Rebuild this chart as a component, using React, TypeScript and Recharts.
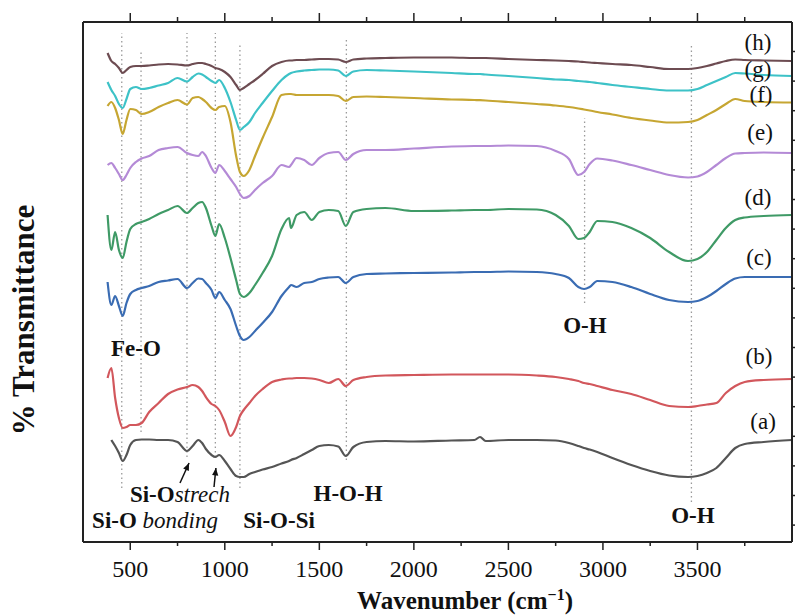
import { LineChart, Line, XAxis, YAxis, ReferenceLine, ReferenceDot } from 'recharts';

// wavenumber grid (cm-1) shared by all spectra
const wavenumbers = [
  380, 400, 420, 440, 460, 480, 500, 530, 560, 600, 650, 700, 750, 800, 830, 860, 880, 900, 930, 950,
  970, 1000, 1030, 1060, 1080, 1100, 1130, 1160, 1200, 1250, 1300, 1340, 1350, 1380, 1420, 1460, 1500, 1550, 1600, 1640,
  1680, 1750, 1850, 2000, 2200, 2320, 2350, 2380, 2500, 2650, 2750, 2820, 2870, 2900, 2930, 2970, 3050, 3150, 3250, 3350,
  3450, 3500, 3550, 3600, 3650, 3700, 3750, 3850, 4000,
];

// % transmittance, stacked with offsets (a.u.)
const specA = [
  null, 102, 96, 89, 81, 87, 97, 102, 102.5, 102.5, 102, 102, 100, 91, 96, 102, 99, 93, 87, 85,
  87, 81, 73, 66, 65, 65, 68, 70, 72.5, 75, 78.5, 81, 82, 84, 88, 92, 96, 97, 95.5, 86,
  95, 100, 101, 100.5, 101.5, 102, 105, 101, 102, 102, 101.5, 99, 96, 94, 92.5, 90, 84, 77, 71, 66.5,
  65, 66, 69, 74, 84, 94, 98, 100, 102,
];
const specB = [
  164, 174, 144, 124, 114, 115, 117, 117, 119, 130, 139, 148, 152.5, 155, 157, 155, 151, 145, 138, 136,
  132, 120, 106, 115, 126, 132, 139, 146, 153, 160, 162.5, 163.5, 163.5, 164, 164, 163.5, 162, 159, 163, 156,
  162, 165, 166.5, 167, 167.5, 167.5, 167.5, 167.5, 167.5, 166.5, 165, 163, 161, 159, 158, 156, 152, 148, 142, 136,
  135, 136, 137.5, 139, 149, 156, 160, 162, 163,
];
const specC = [
  260, 237, 246, 236, 226, 239, 248, 252, 254, 256, 260, 261.5, 263, 254, 259, 263.5, 263, 259, 252, 244,
  250, 242, 233, 216, 206, 202, 205, 211, 219, 230, 246, 255, 257, 255, 259, 260, 263, 264.5, 265, 259,
  265, 268, 268.5, 269, 269.5, 270, 270, 270, 270.5, 270, 268, 264, 255, 253, 255, 261, 260, 255, 248, 242,
  240, 241, 245, 251, 258, 263.5, 265, 265, 265,
];
const specD = [
  327, 292, 310, 292, 284, 300, 313, 318, 320, 323, 328, 332, 336, 329, 334, 339, 340, 334, 316, 306,
  318, 304, 284, 262, 248, 245, 249, 257, 269, 286, 313, 324, 314, 327, 330, 322, 330, 332, 331, 316,
  330, 333, 334, 331, 331.5, 332, 332, 332, 333, 332.5, 327, 316, 303, 304, 310, 321, 320, 314, 304, 290,
  281, 283, 290, 302, 314, 322, 324.5, 326, 327,
];
const specE = [
  377, 379, 374, 368, 362, 367, 374, 380, 383.5, 386, 392, 394, 395, 389, 387, 386, 390, 386, 374, 369,
  377, 371, 363, 355, 348, 344, 346, 352, 359, 366, 377, 375, 377, 384, 382, 377, 384, 389, 390, 382,
  388, 392, 392, 393.5, 395.5, 396, 396, 396, 396.5, 396, 391, 383, 367, 370, 378, 383.5, 381.5, 377, 372, 367,
  364.5, 365.5, 370, 377, 384, 388.5, 389, 389.5, 389,
];
const specF = [
  436, 440, 434, 422, 408, 422, 433, 432, 428, 430, 435, 439, 442, 437.5, 444, 445, 443, 440, 434, 432,
  435, 436, 420, 386, 370, 366, 372, 386, 404, 425, 447, 448, 448, 447, 447, 447, 447, 447, 446, 441,
  445, 445.5, 445, 444, 442.5, 442, 441.8, 441.5, 440, 438, 436.5, 435, 433.5, 432.5, 431.5, 430, 427.5, 424, 421.5, 419.5,
  420, 422, 427, 432, 438, 443, 441, 440, 439.5,
];
const specG = [
  460, 452, 446, 438, 434, 443, 453, 455, 453, 454, 456.5, 459, 464, 460.5, 465, 468.5, 467.5, 465, 461, 459,
  462, 454, 440, 422, 412, 415, 420, 429, 439, 451, 462, 468, 469, 470.5, 471.5, 472, 472.5, 472.5, 471.5, 466,
  470.5, 472, 471.5, 470.5, 469, 468, 468, 467.5, 466, 464, 462.5, 462, 461, 460.5, 460, 459, 457, 455, 453, 451.5,
  451.5, 453, 457, 461, 465, 469, 468.5, 467, 466,
];
const specH = [
  489, 481, 478, 474, 469, 472, 475, 476, 476, 476.5, 477.5, 478, 477.5, 476.5, 478, 479, 479, 478, 476, 474,
  473, 470, 465, 457, 452, 454, 458, 462, 468, 476, 480, 481.5, 481.5, 482, 482, 482.5, 483, 483, 482.5, 480,
  482.5, 483.5, 484, 484.5, 484.5, 484, 484, 484, 483, 482, 481.5, 481, 480.5, 480, 479.5, 479, 478, 477, 475, 473,
  473, 474, 476, 478.5, 481, 482.5, 482, 481.5, 481,
];

const majorTicks = [500, 1000, 1500, 2000, 2500, 3000, 3500];
const minorTicks = [750, 1250, 1750, 2250, 2750, 3250, 3750];
const rightTicks = [
  16.9, 46.5, 76.1, 105.7, 135.3, 164.9, 194.5, 224.1, 253.7, 283.3, 312.9, 342.5, 372.1, 401.7, 431.3, 460.9, 490.5,
];

// dotted guide lines: wavenumber, lower and upper end
const bandLines = [
  { w: 455, from: 54, to: 509 },
  { w: 557, from: 110, to: 492 },
  { w: 800, from: 85, to: 509 },
  { w: 950, from: 85, to: 509 },
  { w: 1080, from: 54, to: 499 },
  { w: 1643, from: 82, to: 505 },
  { w: 2903, from: 239, to: 424 },
  { w: 3468, from: 40, to: 499 },
];

const curveNames = [
  { text: '(h)', w: 3820, v: 500 },
  { text: '(g)', w: 3820, v: 473 },
  { text: '(f)', w: 3836, v: 448 },
  { text: '(e)', w: 3831, v: 410 },
  { text: '(d)', w: 3820, v: 345 },
  { text: '(c)', w: 3825, v: 285 },
  { text: '(b)', w: 3825, v: 186 },
  { text: '(a)', w: 3847, v: 121 },
];

const bandNames = [
  { bold: 'Fe-O', italic: '', w: 530, v: 194 },
  { bold: 'O-H', italic: '', w: 2905, v: 217 },
  { bold: 'O-H', italic: '', w: 3476, v: 27 },
  { bold: 'H-O-H', italic: '', w: 1652, v: 49 },
  { bold: 'Si-O-Si', italic: '', w: 1287, v: 22 },
  { bold: 'Si-O ', italic: 'bonding', w: 631, v: 22 },
  { bold: 'Si-O', italic: 'strech', w: 763, v: 48 },
];

const arrows = [
  { from: { x: 763, y: 59 }, to: { x: 811, y: 79 } },
  { from: { x: 943, y: 55 }, to: { x: 953, y: 74 } },
];

const rows = wavenumbers.map((w, i) => ({
  w,
  a: specA[i],
  b: specB[i],
  c: specC[i],
  d: specD[i],
  e: specE[i],
  f: specF[i],
  g: specG[i],
  h: specH[i],
}));

const series = [
  { key: 'a', color: '#555555' },
  { key: 'b', color: '#d2575c' },
  { key: 'c', color: '#3a6cb3' },
  { key: 'd', color: '#3f9a66' },
  { key: 'e', color: '#b48ad6' },
  { key: 'f', color: '#c6a632' },
  { key: 'g', color: '#3dc2c7' },
  { key: 'h', color: '#6d4c52' },
];

const FONT = "'Liberation Serif', 'Times New Roman', serif";
const INK = '#222';

const BottomTick = (props: any) => {
  const { x, y, payload } = props;
  const major = majorTicks.includes(payload.value);
  return (
    <g>
      <line x1={x} x2={x} y1={y} y2={y + (major ? 8 : 4)} stroke={INK} strokeWidth={1.5} />
      {major && (
        <text x={x} y={y + 35} textAnchor="middle" fontFamily={FONT} fontSize={24} fill="#111">
          {payload.value}
        </text>
      )}
    </g>
  );
};

const TopTick = (props: any) => {
  const { x, y, payload } = props;
  const major = majorTicks.includes(payload.value);
  return <line x1={x} x2={x} y1={y} y2={y - (major ? 9 : 5)} stroke={INK} strokeWidth={1.5} />;
};

const RightTick = (props: any) => {
  const { x, y } = props;
  return <line x1={x} x2={x + 3} y1={y} y2={y} stroke={INK} strokeWidth={1.5} />;
};

const XTitle = (props: any) => {
  const vb = props.viewBox || { x: 83, y: 542, width: 709 };
  return (
    <text x={vb.x + 382} y={vb.y + 67} textAnchor="middle" fontFamily={FONT} fontSize={25} fontWeight="bold" fill="#111">
      Wavenumber (cm
      <tspan dy={-9} fontSize={16}>−1</tspan>
      <tspan dy={9}>)</tspan>
    </text>
  );
};

const YTitle = (props: any) => {
  const vb = props.viewBox || { x: 0, y: 22, height: 520 };
  const cx = 23;
  const cy = vb.y + 298;
  return (
    <text x={cx} y={cy} transform={`rotate(-90 ${cx} ${cy})`} textAnchor="middle" dy="0.35em" fontFamily={FONT} fontSize={31} fontWeight="bold" fill="#111">
      % Transmittance
    </text>
  );
};

const ArrowShape = (props: any) => {
  const { x1, y1, x2, y2 } = props;
  if ([x1, y1, x2, y2].some((n) => typeof n !== 'number')) return null;
  const ang = Math.atan2(y2 - y1, x2 - x1);
  const len = 8;
  const spread = 0.4;
  const p1 = `${x2},${y2}`;
  const p2 = `${x2 - len * Math.cos(ang - spread)},${y2 - len * Math.sin(ang - spread)}`;
  const p3 = `${x2 - len * Math.cos(ang + spread)},${y2 - len * Math.sin(ang + spread)}`;
  return (
    <g>
      <line x1={x1} y1={y1} x2={x2} y2={y2} stroke="#111" strokeWidth={1.5} />
      <polygon points={`${p1} ${p2} ${p3}`} fill="#111" />
    </g>
  );
};

export default function App() {
  return (
    <div style={{ position: 'fixed', left: 0, top: 0, background: '#fff' }}>
      <LineChart width={795} height={615} data={rows} margin={{ top: 12, right: 0, bottom: 0, left: 0 }}>
        <XAxis
          xAxisId="bottom"
          dataKey="w"
          type="number"
          domain={[250, 4000]}
          allowDataOverflow
          ticks={[...majorTicks, ...minorTicks].sort((p, q) => p - q)}
          interval={0}
          tickSize={0}
          tickMargin={0}
          tickLine={false}
          tick={(p: any) => <BottomTick {...p} />}
          height={73}
          axisLine={{ stroke: INK, strokeWidth: 2 }}
          label={<XTitle />}
        />
        <XAxis
          xAxisId="top"
          orientation="top"
          dataKey="w"
          type="number"
          domain={[250, 4000]}
          allowDataOverflow
          ticks={[...majorTicks, ...minorTicks].sort((p, q) => p - q)}
          interval={0}
          tickSize={0}
          tickMargin={0}
          tickLine={false}
          tick={(p: any) => <TopTick {...p} />}
          height={10}
          axisLine={{ stroke: INK, strokeWidth: 2 }}
        />
        <YAxis
          yAxisId="left"
          type="number"
          domain={[0, 520]}
          allowDataOverflow
          width={83}
          tick={false}
          tickLine={false}
          axisLine={{ stroke: INK, strokeWidth: 2 }}
          label={<YTitle />}
        />
        <YAxis
          yAxisId="right"
          orientation="right"
          type="number"
          domain={[0, 520]}
          allowDataOverflow
          width={3}
          ticks={rightTicks}
          interval={0}
          tickSize={0}
          tickMargin={0}
          tickLine={false}
          tick={(p: any) => <RightTick {...p} />}
          axisLine={{ stroke: INK, strokeWidth: 2 }}
        />

        {bandLines.map((b) => (
          <ReferenceLine
            key={`band-${b.w}`}
            xAxisId="bottom"
            yAxisId="left"
            segment={[
              { x: b.w, y: b.from },
              { x: b.w, y: b.to },
            ]}
            stroke="#9a9a9a"
            strokeWidth={1.3}
            strokeDasharray="1.5 3"
          />
        ))}

        {series.map((s) => (
          <Line
            key={s.key}
            xAxisId="bottom"
            yAxisId="left"
            type="monotone"
            dataKey={s.key}
            stroke={s.color}
            strokeWidth={2.2}
            dot={false}
            isAnimationActive={false}
          />
        ))}

        {arrows.map((a, i) => (
          <ReferenceLine
            key={`arrow-${i}`}
            xAxisId="bottom"
            yAxisId="left"
            segment={[a.from, a.to]}
            shape={(p: any) => <ArrowShape {...p} />}
          />
        ))}

        {curveNames.map((c) => (
          <ReferenceDot
            key={c.text}
            xAxisId="bottom"
            yAxisId="left"
            x={c.w}
            y={c.v}
            r={0}
            shape={(p: any) => (
              <text x={p.cx} y={p.cy} dy="0.35em" textAnchor="middle" fontFamily={FONT} fontSize={23} fill="#111">
                {c.text}
              </text>
            )}
          />
        ))}

        {bandNames.map((n, i) => (
          <ReferenceDot
            key={`band-name-${i}`}
            xAxisId="bottom"
            yAxisId="left"
            x={n.w}
            y={n.v}
            r={0}
            shape={(p: any) => (
              <text x={p.cx} y={p.cy} dy="0.35em" textAnchor="middle" fontFamily={FONT} fontSize={23} fill="#111">
                <tspan fontWeight="bold">{n.bold}</tspan>
                {n.italic && <tspan fontStyle="italic">{n.italic}</tspan>}
              </text>
            )}
          />
        ))}
      </LineChart>
    </div>
  );
}
